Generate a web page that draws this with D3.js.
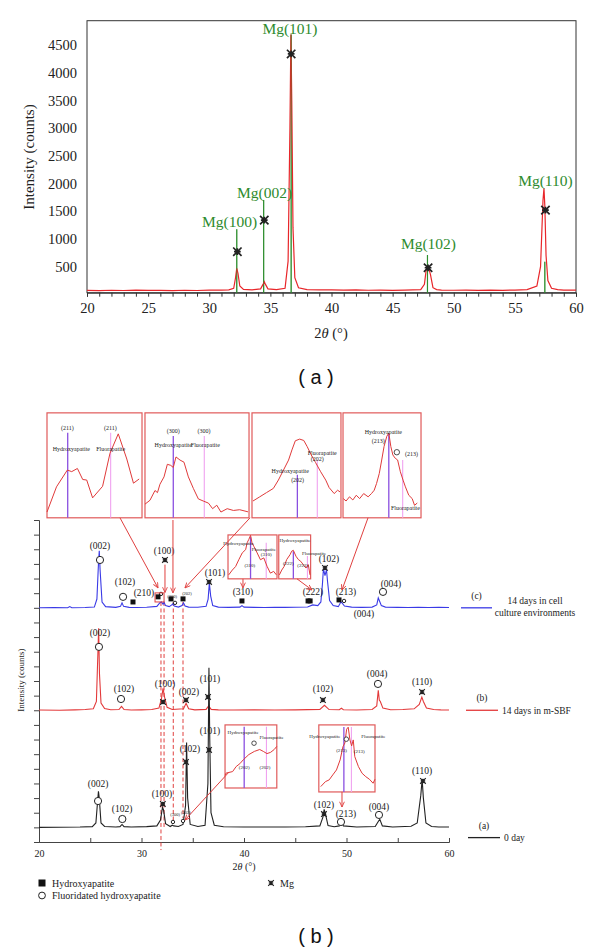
<!DOCTYPE html>
<html><head><meta charset="utf-8">
<script src="https://cdn.jsdelivr.net/npm/d3@7"></script>
<style>body{margin:0;background:#fff}svg{display:block}</style>
</head><body>
<svg id="c" width="600" height="951"></svg>
<script>
// ---------------- DATA: panel (a) ----------------
const thetaA = [20,21,22,23,24,25,26,27,28,29,30,31,31.6,32.0,32.15,32.25,32.35,32.5,32.8,33.5,34.2,34.4,34.5,34.6,34.8,35.5,36.2,36.45,36.6,36.68,36.75,36.85,37.0,37.3,38,39,40,41,42,43,44,45,46,47.3,47.6,47.75,47.85,47.95,48.1,48.3,48.6,49,50,51,52,53,54,55,56,56.8,57.1,57.3,57.38,57.45,57.55,57.7,58.0,58.5,59,60];
const countsA = [72,68,74,70,76,71,73,69,74,70,77,75,82,110,300,470,380,150,90,80,100,180,230,180,100,85,110,600,3000,4690,3500,1200,300,120,85,80,82,76,80,74,77,73,78,85,180,450,500,480,350,120,85,78,74,77,72,76,73,78,85,150,500,1700,1915,1600,700,250,110,85,78,75];
const mgStickTheta = [32.25,34.45,36.7,47.85,57.45];
const mgStickCounts = [1175,1705,4690,710,590];
const mgMarkA = [[32.3,770],[34.5,1340],[36.7,4340],[47.9,480],[57.5,1520]];
const mgLabelA = [[31.66,1310,"Mg(100)"],[34.53,1840,"Mg(002)"],[36.6,4800,"Mg(101)"],[47.93,910,"Mg(102)"],[57.5,2050,"Mg(110)"]];
const yTicksA = [500,1000,1500,2000,2500,3000,3500,4000,4500];
const xTicksA = [20,25,30,35,40,45,50,55,60];

// ---------------- DATA: panel (b) ----------------
// (c) 14 days in cell culture environments (blue), offset 16 units
const thetaCell = [20,21.5,22.8,23.0,23.2,24.5,25.4,25.65,25.8,25.88,25.96,26.15,26.5,27.5,27.95,28.1,28.25,28.8,29.5,30.5,31.5,31.8,31.95,32.1,32.2,32.35,32.7,32.95,33.05,33.2,33.6,33.95,34.1,34.25,34.6,35.5,36.3,36.5,36.62,36.75,36.95,37.5,38.5,39.6,39.8,40.0,41,42,43,44,45,46.2,46.7,47.2,47.5,47.65,47.75,47.9,48.05,48.15,48.35,48.7,49.2,49.45,49.55,49.8,50.5,51.5,52.5,52.95,53.1,53.2,53.4,53.8,55,56,57,58,59,60];
const cell = [0,0.02,0,0.08,0,0.02,0.05,0.6,3.0,3.9,2.6,0.4,0.08,0.03,0.1,0.34,0.1,0.03,0.02,0.04,0.1,0.35,0.4,0.25,0.38,0.15,0.08,0.2,0.27,0.12,0.05,0.15,0.34,0.12,0.05,0.04,0.1,0.6,1.7,0.8,0.15,0.05,0.03,0.05,0.15,0.05,0.03,0.02,0.04,0.03,0.04,0.06,0.2,0.15,0.4,1.6,2.67,2.2,2.6,1.8,0.5,0.15,0.08,0.4,0.35,0.12,0.05,0.03,0.05,0.2,0.68,0.5,0.15,0.05,0.03,0.02,0.03,0.02,0.03,0.02];
// (b) 14 days in m-SBF (red), offset 9 units
const thetaSBF = [20,22,23.5,24.5,25.3,25.6,25.75,25.82,25.9,26.05,26.4,27,27.8,28.05,28.3,29,30,31,31.7,31.95,32.1,32.25,32.5,33,34.1,34.35,34.6,35.2,36.3,36.55,36.8,37.5,39,41,43,45,47.4,47.85,48.3,49.3,49.5,49.7,51,52.5,52.95,53.1,53.2,53.3,53.55,54.3,55.5,56.6,57.1,57.35,57.5,57.8,58.5,59.2,60];
const sbf = [0.02,0,0.03,0.05,0.1,0.6,4.0,5.6,2.5,0.5,0.12,0.04,0.05,0.27,0.05,0.02,0.03,0.05,0.15,0.8,1.5,0.9,0.2,0.05,0.1,0.48,0.1,0.03,0.06,0.3,0.06,0.03,0.02,0.03,0.02,0.03,0.06,0.34,0.05,0.04,0.14,0.04,0.02,0.05,0.3,1.37,0.7,0.6,0.15,0.04,0.05,0.1,0.4,0.9,0.6,0.15,0.05,0.03,0.02];
// (a) 0 day (black), offset 1 unit
const thetaDay0 = [20,22,24,25.2,25.55,25.72,25.8,25.88,26.05,26.4,27.5,27.9,28.1,28.3,29,30.5,31.5,31.85,32.05,32.15,32.35,32.8,33.0,33.15,33.6,34.05,34.3,34.4,34.5,34.75,35.5,36.2,36.48,36.58,36.66,36.78,37.1,38,40,42,44,46,47.4,47.7,47.82,47.95,48.2,48.8,49.3,49.5,49.7,51,52.8,53.1,53.25,53.5,54.5,56.3,56.9,57.25,57.38,57.5,57.75,58.3,59,60];
const day0 = [0,0.01,0.02,0.05,0.3,1.8,2.46,2.0,0.3,0.06,0.03,0.05,0.2,0.05,0.02,0.05,0.1,0.5,1.37,1.2,0.25,0.06,0.15,0.1,0.06,0.2,1.5,5.8,2.0,0.2,0.06,0.15,3.0,10.9,6.0,1.0,0.15,0.04,0.02,0.03,0.02,0.04,0.1,0.7,1.23,0.9,0.12,0.04,0.1,0.34,0.1,0.02,0.06,0.4,0.55,0.1,0.03,0.08,0.3,2.2,3.28,2.0,0.3,0.06,0.03,0.02];
const offsets = {cell:16, sbf:9, day0:1};
const xTicksB = [20,25,30,35,40,45,50,55,60];
const xLabelsB = [20,30,40,50,60];

// annotations (theta, stacked units)
const cellLabels = [[25.95,20.23,"(002)"],[28.39,17.77,"(102)"],[30.24,17.02,"(210)"],[32.2,19.89,"(100)"],[37.17,18.39,"(101)"],[39.9,17.09,"(310)"],[46.73,17.09,"(222)"],[48.29,19.34,"(102)"],[49.95,17.09,"(213)"],[54.34,17.63,"(004)"],[51.7,15.58,"(004)"]];
const cellTiny = [[32.98,16.81,"(300)"],[34.44,16.95,"(202)"]];
const cellHA = [[29.17,16.4],[31.61,16.75],[32.88,16.61],[34.05,16.61],[39.8,16.47],[46.25,16.47],[46.45,16.47],[49.27,16.54]];
const cellFA = [[25.95,19.27],[28.2,16.75],[53.56,17.09]];
const cellFAsmall = [[31.9,16.95],[33.27,16.34],[49.76,16.47]];
const cellMg = [[32.29,19.27],[36.59,17.77],[47.9,18.73]];

const sbfLabels = [[25.95,14.29,"(002)"],[28.29,10.46,"(102)"],[32.29,10.8,"(100)"],[34.63,10.25,"(002)"],[36.68,11.14,"(101)"],[47.7,10.46,"(102)"],[52.98,11.48,"(004)"],[57.37,10.94,"(110)"]];
const sbfFA = [[25.85,13.33],[28.0,9.77],[53.07,10.8]];
const sbfMg = [[32.1,9.57],[34.34,9.7],[36.49,9.91],[47.7,9.7],[57.37,10.25]];

const day0Labels = [[25.76,3.96,"(002)"],[28.1,2.26,"(102)"],[32.0,3.28,"(100)"],[34.73,6.36,"(102)"],[36.68,7.59,"(101)"],[47.8,2.53,"(102)"],[49.95,1.91,"(213)"],[53.17,2.39,"(004)"],[57.37,4.85,"(110)"]];
const day0Tiny = [[33.27,1.91,"(300)"],[34.34,2.05,"(202)"]];
const day0FA = [[25.76,2.8],[28.13,1.57],[49.46,1.37],[53.17,1.85]];
const day0FAsmall = [[33.07,1.37],[34.05,1.44]];
const day0Mg = [[32.08,2.6],[34.34,5.47],[36.59,6.29],[47.8,1.91],[57.46,4.17]];

// dashed reference lines (theta, from units, to units)
const dashTheta = [31.9,32.2,33.1,34.05];
const dashTo = [-0.55,1.0,1.37,1.64];

// inset profiles (fractions of the inset box)
const prof211 = [[0,0.055],[0.1,0.295],[0.214,0.455],[0.26,0.44],[0.32,0.47],[0.376,0.365],[0.418,0.36],[0.48,0.19],[0.585,0.3],[0.663,0.615],[0.75,0.8],[0.84,0.56],[0.91,0.33],[0.97,0.37]];
const prof300 = [[0,0.13],[0.048,0.167],[0.096,0.26],[0.12,0.24],[0.144,0.32],[0.183,0.39],[0.215,0.51],[0.247,0.5],[0.272,0.48],[0.298,0.58],[0.337,0.55],[0.375,0.53],[0.417,0.39],[0.465,0.28],[0.513,0.18],[0.56,0.16],[0.61,0.14],[0.65,0.087],[0.69,0.12],[0.73,0.055],[0.79,0.087],[0.85,0.07],[0.91,0.077],[0.99,0.057]];
const prof202 = [[0.011,0.16],[0.087,0.2],[0.163,0.24],[0.24,0.28],[0.297,0.36],[0.354,0.455],[0.411,0.55],[0.449,0.647],[0.487,0.734],[0.536,0.75],[0.582,0.737],[0.62,0.679],[0.665,0.6],[0.715,0.526],[0.772,0.439],[0.829,0.359],[0.867,0.288],[0.924,0.231],[0.962,0.263],[0.989,0.247]];
const prof213 = [[0.004,0.183],[0.039,0.16],[0.083,0.2],[0.126,0.17],[0.17,0.215],[0.213,0.183],[0.265,0.231],[0.322,0.2],[0.365,0.231],[0.4,0.263],[0.43,0.327],[0.465,0.423],[0.496,0.551],[0.526,0.679],[0.561,0.776],[0.587,0.808],[0.613,0.679],[0.639,0.599],[0.67,0.567],[0.7,0.551],[0.735,0.439],[0.77,0.359],[0.8,0.295],[0.843,0.215],[0.887,0.183],[0.917,0.119],[0.952,0.141]];
const prof310 = [[0.014,0.09],[0.088,0.2],[0.155,0.28],[0.22,0.435],[0.29,0.59],[0.36,0.665],[0.39,0.82],[0.425,0.9],[0.46,0.99],[0.49,0.82],[0.527,0.74],[0.595,0.59],[0.662,0.435],[0.73,0.477],[0.797,0.285],[0.865,0.13],[0.932,0.17],[0.986,0.092]];
const prof222 = [[0.02,0.09],[0.094,0.2],[0.167,0.28],[0.25,0.44],[0.354,0.55],[0.406,0.63],[0.458,0.65],[0.54,0.515],[0.615,0.44],[0.688,0.4],[0.77,0.323],[0.854,0.246],[0.927,0.323],[0.98,0.09]];
const prof202b = [[0,0.2],[0.02,0.236],[0.146,0.26],[0.215,0.34],[0.286,0.385],[0.356,0.45],[0.46,0.53],[0.567,0.58],[0.67,0.61],[0.74,0.58],[0.81,0.545],[0.88,0.565],[0.95,0.61],[1.0,0.66]];
const prof213b = [[0.034,0.08],[0.118,0.154],[0.184,0.18],[0.248,0.254],[0.314,0.328],[0.379,0.478],[0.43,0.676],[0.464,0.73],[0.495,0.936],[0.523,0.966],[0.554,0.776],[0.584,0.687],[0.613,0.776],[0.64,0.527],[0.705,0.378],[0.77,0.279],[0.836,0.228],[0.9,0.19],[0.966,0.13],[1.0,0.19]];

// ---------------- DRAWING ----------------
const SERIF = "Liberation Serif, Times New Roman, serif";
const SANS = "Liberation Sans, Arial, sans-serif";
const svg = d3.select("#c");
const defs = svg.append("defs");
defs.append("marker").attr("id","arr").attr("viewBox","0 0 8 8").attr("refX",7.5).attr("refY",4)
  .attr("markerWidth",6).attr("markerHeight",6).attr("markerUnits","userSpaceOnUse").attr("orient","auto")
  .append("path").attr("d","M0.5,0.8 L7.5,4 L0.5,7.2").attr("fill","none").attr("stroke","#e0403f").attr("stroke-width",1.2);

function mgMark(g,x,y,s,w){
  g.append("path").attr("d",`M${x-s},${y-s}L${x+s},${y+s}M${x-s},${y+s}L${x+s},${y-s}M${x},${y-s*0.8}L${x},${y+s*0.8}M${x-s*0.8},${y}L${x+s*0.8},${y}`)
   .attr("stroke","#222").attr("stroke-width",w).attr("fill","none");
}

// ===== Panel (a) =====
const xA = d3.scaleLinear().domain([20,60]).range([87,576]);
const yA = d3.scaleLinear().domain([30,4940]).range([292.7,20.7]);
const gA = svg.append("g");
gA.append("rect").attr("x",87).attr("y",20.7).attr("width",489).attr("height",272).attr("fill","none").attr("stroke","#333").attr("stroke-width",1);
const axA = gA.append("g").attr("transform","translate(0,292.7)")
  .call(d3.axisBottom(xA).tickValues(d3.range(20,61,1)).tickSize(4).tickFormat(d=>xTicksA.includes(d)?String(d):""));
axA.select(".domain").attr("stroke","#333");
axA.selectAll("line").attr("stroke","#333");
axA.selectAll("text").style("font-family",SERIF).style("font-size","14.5px").attr("fill","#222").attr("dy","0.9em");
const ayA = gA.append("g").attr("transform","translate(87,0)")
  .call(d3.axisLeft(yA).tickValues(yTicksA).tickSize(0).tickPadding(10).tickFormat(d3.format("d")));
ayA.select(".domain").remove();
ayA.selectAll("text").style("font-family",SERIF).style("font-size","14.5px").attr("fill","#222");
gA.append("text").attr("transform","translate(34,157) rotate(-90)").attr("text-anchor","middle")
  .style("font-family",SERIF).style("font-size","15px").attr("fill","#222").text("Intensity (counts)");
const tA = gA.append("text").attr("x",331).attr("y",338).attr("text-anchor","middle").style("font-family",SERIF).style("font-size","14.5px").attr("fill","#222");
tA.append("tspan").text("2");
tA.append("tspan").attr("font-style","italic").text("θ");
tA.append("tspan").text(" (°)");

gA.append("g").selectAll("line").data(mgStickTheta).join("line")
  .attr("x1",d=>xA(d)).attr("x2",d=>xA(d)).attr("y1",yA(30)).attr("y2",(d,i)=>yA(mgStickCounts[i]))
  .attr("stroke","#2f8f2f").attr("stroke-width",1.2);
gA.append("path").datum(thetaA.map((t,i)=>[t,countsA[i]]))
  .attr("d",d3.line().x(d=>xA(d[0])).y(d=>yA(d[1])))
  .attr("fill","none").attr("stroke","#e8262a").attr("stroke-width",1.2);
gA.append("g").selectAll("line").data(mgStickTheta).join("line")
  .attr("x1",d=>xA(d)).attr("x2",d=>xA(d)).attr("y1",yA(30)).attr("y2",(d,i)=>yA(mgStickCounts[i]))
  .attr("stroke","#2f8f2f").attr("stroke-width",0.8).attr("opacity",0.6);
mgMarkA.forEach(d=>mgMark(gA,xA(d[0]),yA(d[1]),4.2,1.7));
gA.append("g").selectAll("text").data(mgLabelA).join("text")
  .attr("x",d=>xA(d[0])).attr("y",d=>yA(d[1])).attr("dy","0.35em").attr("text-anchor","middle")
  .style("font-family",SERIF).style("font-size","15.5px").attr("fill","#2e8b2e").text(d=>d[2]);
svg.append("text").attr("x",316).attr("y",384).attr("text-anchor","middle").style("font-family",SANS).style("font-size","20px").attr("fill","#111").text("( a )");

// ===== Panel (b) =====
const xB = d3.scaleLinear().domain([20,60]).range([39,449]);
const yB = d3.scaleLinear().domain([0,22]).range([842,520]);
const gB = svg.append("g");
const axB = gB.append("g").attr("transform","translate(0,842)")
  .call(d3.axisBottom(xB).tickValues(xTicksB).tickSize(-4).tickPadding(8).tickFormat(d=>xLabelsB.includes(d)?String(d):""));
axB.select(".domain").attr("stroke","#444");
axB.selectAll("line").attr("stroke","#444");
axB.selectAll("text").style("font-family",SERIF).style("font-size","10px").attr("fill","#222");
const ayB = gB.append("g").attr("transform","translate(39,0)")
  .call(d3.axisLeft(yB).tickValues(d3.range(0,23,1)).tickSize(5).tickFormat(""));
ayB.select(".domain").attr("stroke","#444");
ayB.selectAll("line").attr("stroke","#444");
gB.append("text").attr("transform","translate(24,680) rotate(-90)").attr("text-anchor","middle")
  .style("font-family",SERIF).style("font-size","9px").attr("fill","#222").text("Intensity (counts)");
const tB = gB.append("text").attr("x",244).attr("y",870).attr("text-anchor","middle").style("font-family",SERIF).style("font-size","10px").attr("fill","#222");
tB.append("tspan").text("2");
tB.append("tspan").attr("font-style","italic").text("θ");
tB.append("tspan").text(" (°)");

// dashed lines
gB.append("g").selectAll("line").data(dashTheta).join("line")
  .attr("x1",d=>xB(d)).attr("x2",d=>xB(d)).attr("y1",yB(16.4)).attr("y2",(d,i)=>yB(dashTo[i]))
  .attr("stroke","#e0403f").attr("stroke-width",1).attr("stroke-dasharray","4,2.5");

const lineB = (th,vals,off)=>d3.line().x((d,i)=>xB(th[i])).y(d=>yB(off+d))(vals);
gB.append("path").attr("d",lineB(thetaSBF,sbf,offsets.sbf)).attr("fill","none").attr("stroke","#e3393a").attr("stroke-width",1.1);
gB.append("path").attr("d",lineB(thetaDay0,day0,offsets.day0)).attr("fill","none").attr("stroke","#222").attr("stroke-width",1.1);
gB.append("path").attr("d",lineB(thetaCell,cell,offsets.cell)).attr("fill","none").attr("stroke","#3a3ae6").attr("stroke-width",1.1);

// markers + labels
function labels(arr,size){
  gB.append("g").selectAll("text").data(arr).join("text")
    .attr("x",d=>xB(d[0])).attr("y",d=>yB(d[1])).attr("dy","0.35em").attr("text-anchor","middle")
    .style("font-family",SERIF).style("font-size",size+"px").attr("fill","#222").text(d=>d[2]);
}
function circles(arr,r){
  gB.append("g").selectAll("circle").data(arr).join("circle")
    .attr("cx",d=>xB(d[0])).attr("cy",d=>yB(d[1])).attr("r",r).attr("fill","#fff").attr("stroke","#222").attr("stroke-width",1);
}
function squares(arr,s){
  gB.append("g").selectAll("rect").data(arr).join("rect")
    .attr("x",d=>xB(d[0])-s/2).attr("y",d=>yB(d[1])-s/2).attr("width",s).attr("height",s).attr("fill","#111");
}
labels(cellLabels,9.5); labels(sbfLabels,9.5); labels(day0Labels,9.5);
labels(cellTiny,4.5); labels(day0Tiny,4.5);
circles(cellFA,3.6); circles(sbfFA,3.6); circles(day0FA,3.6);
circles(cellFAsmall,1.7); circles(day0FAsmall,1.7);
squares(cellHA,5);
cellMg.concat(sbfMg,day0Mg).forEach(d=>mgMark(gB,xB(d[0]),yB(d[1]),2.8,1.2));

// tiny box near (210)
gB.append("rect").attr("x",xB(31.32)).attr("y",yB(17.02)).attr("width",xB(32.2)-xB(31.32)).attr("height",yB(16.4)-yB(17.02))
  .attr("fill","none").attr("stroke","#e0403f").attr("stroke-width",1);

// insets
const insets = [
  {x:[20.78,30.05],u:[22.15,29.32],p:prof211,ha:[0.218,0.81],fa:[0.67,0.81],fs:6,
   t:[[0.214,0.856,"(211)"],[0.667,0.86,"(211)"],[0.256,0.654,"Hydroxyapatite"],[0.67,0.656,"Fluorapatite"]]},
  {x:[30.34,40.49],u:[22.15,29.32],p:prof300,ha:[0.272,0.78],fa:[0.57,0.78],fs:6,
   t:[[0.272,0.83,"(300)"],[0.567,0.83,"(300)"],[0.272,0.69,"Hydroxyapatite"],[0.58,0.69,"Fluorapatite"]]},
  {x:[40.78,49.46],u:[22.15,29.32],p:prof202,ha:[0.51,0.41],fa:[0.734,0.55],fs:6,
   t:[[0.79,0.62,"Fluorapatite"],[0.734,0.56,"(202)"],[0.43,0.45,"Hydroxyapatite"],[0.513,0.36,"(202)"]]},
  {x:[49.66,57.27],u:[22.15,29.32],p:prof213,ha:[0.587,0.8],fa:[0.765,0.55],fs:6,circ:[0.69,0.625],
   t:[[0.517,0.817,"Hydroxyapatite"],[0.452,0.737,"(213)"],[0.878,0.612,"(213)"],[0.8,0.093,"Fluorapatite"]]},
  {x:[38.44,43.22],u:[17.98,20.98],p:prof310,ha:[0.46,0.95],fa:[0.78,0.82],fs:5,
   t:[[0.22,0.82,"Hydroxyapatite"],[0.73,0.68,"Fluorapatite"],[0.78,0.57,"(310)"],[0.446,0.3,"(310)"]]},
  {x:[43.39,46.5],u:[17.98,20.98],p:prof222,ha:[0.458,0.63],fa:[0.9,0.52],fs:5,
   t:[[0.51,0.885,"Hydroxyapatite"],[1.11,0.59,"Fluorapatite"],[0.3,0.36,"(222)"],[0.75,0.32,"(222)"]]},
  {x:[38.15,43.2],u:[3.69,8.0],p:prof202b,ha:[0.37,0.97],fa:[0.8,0.97],fs:5,circ:[0.56,0.71],
   t:[[0.35,0.88,"Hydroxyapatite"],[0.9,0.81,"Fluorapatite"],[0.37,0.33,"(202)"],[0.77,0.33,"(202)"]]},
  {x:[47.3,52.78],u:[3.42,8.0],p:prof213b,ha:[0.446,0.97],fa:[0.58,0.97],fs:5,circ:[0.49,0.787],
   t:[[0.107,0.825,"Hydroxyapatite"],[0.97,0.825,"Fluorapatite"],[0.405,0.616,"(213)"],[0.72,0.6,"(213)"]]}
];
insets.forEach(b=>{
  const x0=xB(b.x[0]), x1=xB(b.x[1]), y0=yB(b.u[1]), y1=yB(b.u[0]);
  const fx=d3.scaleLinear().domain([0,1]).range([x0,x1]);
  const fy=d3.scaleLinear().domain([0,1]).range([y1,y0]);
  const g=gB.append("g");
  g.append("rect").attr("x",x0).attr("y",y0).attr("width",x1-x0).attr("height",y1-y0).attr("fill","#fff").attr("stroke","#e05a5a").attr("stroke-width",1.2);
  g.append("line").attr("x1",fx(b.ha[0])).attr("x2",fx(b.ha[0])).attr("y1",fy(0)).attr("y2",fy(b.ha[1])).attr("stroke","#8a4fe0").attr("stroke-width",1.3);
  g.append("line").attr("x1",fx(b.fa[0])).attr("x2",fx(b.fa[0])).attr("y1",fy(0)).attr("y2",fy(b.fa[1])).attr("stroke","#f0a2f0").attr("stroke-width",1.1);
  g.append("path").attr("d",d3.line().x(d=>fx(d[0])).y(d=>fy(d[1]))(b.p)).attr("fill","none").attr("stroke","#e03a3a").attr("stroke-width",1);
  if(b.circ) g.append("circle").attr("cx",fx(b.circ[0])).attr("cy",fy(b.circ[1])).attr("r",b.fs*0.45).attr("fill","#fff").attr("stroke","#222").attr("stroke-width",0.8);
  g.selectAll("text").data(b.t).join("text").attr("x",d=>fx(d[0])).attr("y",d=>fy(d[1])).attr("dy","0.35em")
    .attr("text-anchor","middle").style("font-family",SERIF).style("font-size",b.fs+"px").attr("fill","#222").text(d=>d[2]);
});

// arrows (theta,units) -> (theta,units)
const arrows = [[27.9,22.15,31.61,17.36],[33.07,22.0,33.07,17.02],[40.59,22.15,34.24,17.36],[52.1,22.15,49.56,17.22],
  [39.9,17.98,39.9,17.36],[45.17,17.98,46.63,17.22],[32.29,18.95,32.29,17.05],[38.54,4.78,34.24,1.5],[49.56,3.42,49.56,2.39]];
gB.append("g").selectAll("line").data(arrows).join("line")
  .attr("x1",d=>xB(d[0])).attr("y1",d=>yB(d[1])).attr("x2",d=>xB(d[2])).attr("y2",d=>yB(d[3]))
  .attr("stroke","#e0403f").attr("stroke-width",1).attr("marker-end","url(#arr)");

// right-side legends
const legends = [
  {id:"(c)",u:offsets.cell,color:"#3a3ae6",x:[461,492],lines:["14 days in cell","culture environments"]},
  {id:"(b)",u:offsets.sbf,color:"#e3393a",x:[466,498],lines:["14 days in m-SBF"]},
  {id:"(a)",u:offsets.day0-0.7,color:"#222",x:[468,500],lines:["0 day"]}
];
legends.forEach(L=>{
  const y=yB(L.u);
  gB.append("line").attr("x1",L.x[0]).attr("x2",L.x[1]).attr("y1",y).attr("y2",y).attr("stroke",L.color).attr("stroke-width",1.3);
  gB.append("text").attr("x",(L.x[0]+L.x[1])/2).attr("y",y-9).attr("text-anchor","middle").style("font-family",SERIF).style("font-size","9.5px").attr("fill","#222").text(L.id);
  if(L.lines.length===2){
    L.lines.forEach((s,i)=>gB.append("text").attr("x",535).attr("y",y-4+i*12).attr("text-anchor","middle").style("font-family",SERIF).style("font-size","9.5px").attr("fill","#222").text(s));
  } else {
    gB.append("text").attr("x",L.x[1]+4).attr("y",y).attr("dy","0.35em").style("font-family",SERIF).style("font-size","9.5px").attr("fill","#222").text(L.lines[0]);
  }
});

// bottom legend
gB.append("rect").attr("x",38.5).attr("y",879.5).attr("width",7).attr("height",7).attr("fill","#111");
gB.append("text").attr("x",52).attr("y",883).attr("dy","0.35em").style("font-family",SERIF).style("font-size","10px").attr("fill","#222").text("Hydroxyapatite");
gB.append("circle").attr("cx",42).attr("cy",895.5).attr("r",3.4).attr("fill","#fff").attr("stroke","#222");
gB.append("text").attr("x",52).attr("y",895.5).attr("dy","0.35em").style("font-family",SERIF).style("font-size","10px").attr("fill","#222").text("Fluoridated hydroxyapatite");
mgMark(gB,271,883,2.8,1.2);
gB.append("text").attr("x",280).attr("y",883).attr("dy","0.35em").style("font-family",SERIF).style("font-size","10px").attr("fill","#222").text("Mg");
svg.append("text").attr("x",316).attr("y",943).attr("text-anchor","middle").style("font-family",SANS).style("font-size","20px").attr("fill","#111").text("( b )");
</script>
</body></html>
